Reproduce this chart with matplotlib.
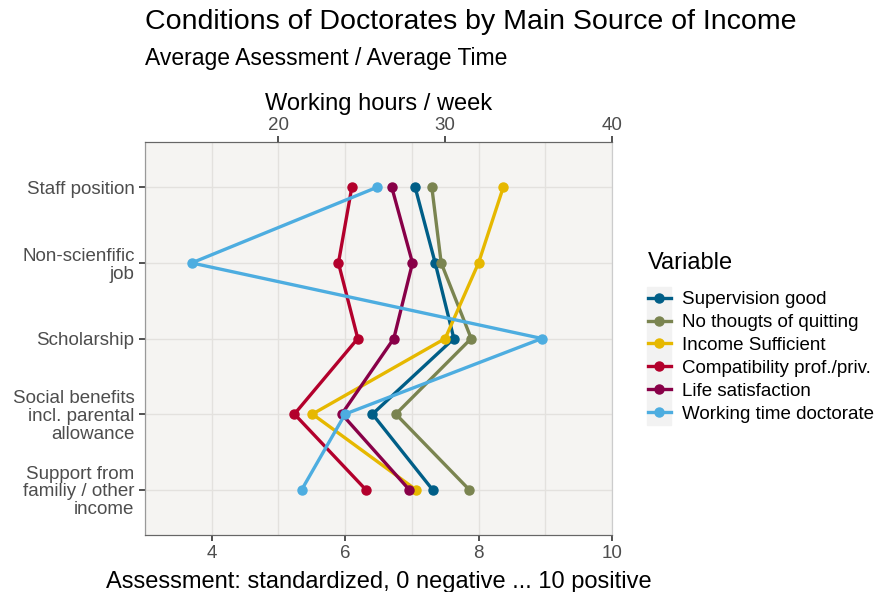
import matplotlib
matplotlib.use("Agg")
import matplotlib.pyplot as plt
from matplotlib.lines import Line2D
from matplotlib.patches import Rectangle

plt.rcParams['font.family'] = ['Liberation Sans', 'DejaVu Sans']

# categories, top to bottom
sources = ['Staff position', 'Non-scienfific\njob', 'Scholarship',
           'Social benefits\nincl. parental\nallowance',
           'Support from\nfamiliy / other\nincome']

# assessments, 0 negative ... 10 positive
supervision = [7.05, 7.35, 7.63, 6.41, 7.31]
no_quitting = [7.30, 7.44, 7.89, 6.76, 7.86]
income_suff = [8.37, 8.00, 7.50, 5.51, 7.06]
compatibility = [6.10, 5.90, 6.19, 5.24, 6.31]
life_satisf = [6.70, 7.01, 6.73, 5.95, 6.96]
# working hours / week
working_time = [25.9, 14.8, 35.8, 24.0, 21.4]

names = ['Supervision good', 'No thougts of quitting', 'Income Sufficient',
         'Compatibility prof./priv.', 'Life satisfaction']
colors = ['#005e87', '#7a8450', '#e6b800', '#b3002c', '#880048']
wt_name = 'Working time doctorate'
wt_color = '#4dade0'

fig = plt.figure(figsize=(8.85, 5.92), dpi=100)
ax = fig.add_axes([0.1638, 0.0963, 0.5277, 0.6638])
ax.set_facecolor('#f5f4f2')

ypos = list(range(len(sources)))
for vals, name, c in zip([supervision, no_quitting, income_suff, compatibility, life_satisf], names, colors):
    ax.plot(vals, ypos, color=c, lw=2.4, marker='o', ms=6.5, label=name, zorder=3)

ax.set_xlim(3, 10)
ax.set_ylim(len(sources) - 0.4, -0.6)
ax.set_xticks([4, 6, 8, 10])
ax.set_xticks([3, 5, 7, 9], minor=True)
ax.set_yticks(ypos)
ax.set_yticklabels(sources, linespacing=1.05)
ax.grid(True, which='both', color='#e3e1de', lw=1.0)
ax.set_axisbelow(True)
ax.tick_params(axis='both', colors='#333333', labelcolor='#4d4d4d', labelsize=13.5, length=4, width=1.2)
ax.tick_params(axis='x', which='minor', length=0)
ax.set_xlabel('Assessment: standardized, 0 negative ... 10 positive', fontsize=17, labelpad=6)

ax2 = ax.twiny()
ax2.set_xlim(12, 40)
ax2.set_xticks([20, 30, 40])
ax2.plot(working_time, ypos, color=wt_color, lw=2.4, marker='o', ms=6.5, zorder=4)
ax2.tick_params(axis='x', colors='#333333', labelcolor='#4d4d4d', labelsize=13.5, length=4, width=1.2, pad=2)
ax2.set_xlabel('Working hours / week', fontsize=17, labelpad=5)

for a in (ax, ax2):
    a.spines['top'].set_color('#666666')
    a.spines['bottom'].set_color('#666666')
    a.spines['left'].set_color('#999999')
    a.spines['right'].set_color('#cccccc')

fig.text(0.1638, 0.985, 'Conditions of Doctorates by Main Source of Income', fontsize=20.5, va='top')
fig.text(0.1638, 0.920, 'Average Asessment / Average Time', fontsize=16.5, va='top')

# legend: title, grey key background, entries
fig.text(648 / 885, 1 - 263 / 592, 'Variable', fontsize=17, va='center')
fig.patches.append(Rectangle((647 / 885, 1 - 425 / 592), 24 / 885, 138 / 592,
                             transform=fig.transFigure, color='#f2f2f2', zorder=0))

handles = [Line2D([], [], color=c, lw=2.4, marker='o', ms=6.5) for c in colors]
handles.append(Line2D([], [], color=wt_color, lw=2.4, marker='o', ms=6.5))
leg = fig.legend(handles, names + [wt_name], loc='upper left', bbox_to_anchor=(648 / 885, 1 - 291 / 592),
                 frameon=False, fontsize=13.5,
                 handlelength=1.2, handletextpad=0.64, labelspacing=0.31, alignment='left',
                 borderpad=0, borderaxespad=0)

fig.savefig('out.png', dpi=100)
